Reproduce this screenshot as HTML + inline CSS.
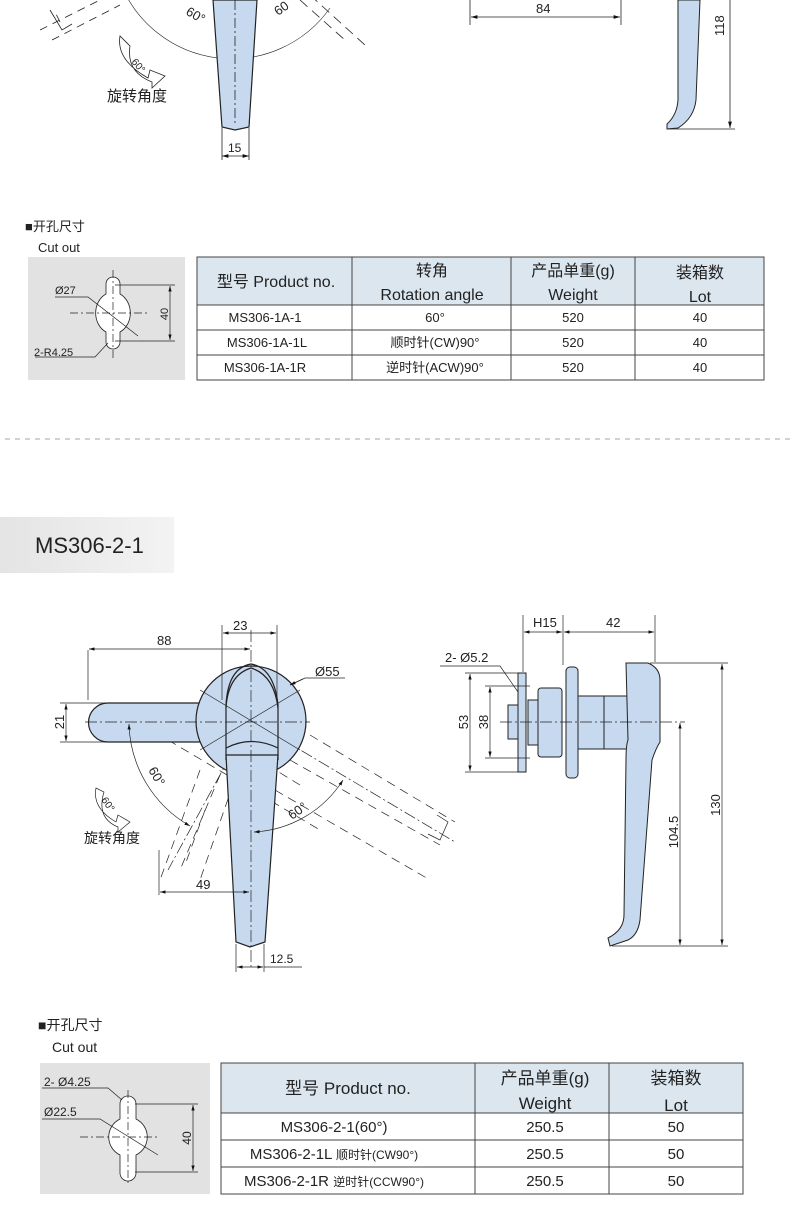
<!DOCTYPE html>
<html><head><meta charset="utf-8"><style>
html,body{margin:0;padding:0;background:#fff;}
body{width:790px;height:1213px;overflow:hidden;position:relative;}
svg{position:absolute;left:0;top:0;}
text{font-family:"Liberation Sans","Noto Sans CJK SC",sans-serif;fill:#222;}
</style></head><body>
<svg width="790" height="1213" viewBox="0 0 790 1213" xmlns="http://www.w3.org/2000/svg">
<defs>
<marker id="a" viewBox="0 0 10 6" refX="10" refY="3" markerWidth="8" markerHeight="5" orient="auto-start-reverse"><path d="M0,0 L10,3 L0,6 z" fill="#111"/></marker>
<linearGradient id="g" x1="0" x2="1"><stop offset="0" stop-color="#e4e4e4"/><stop offset="1" stop-color="#f3f3f3"/></linearGradient>
</defs>
<g stroke="#222" stroke-width="0.8" fill="none">
<!-- ===== TOP SECTION ===== -->
<path d="M40,30 L100,0 M52,40 L120,5 M60,22 L54,10" stroke-dasharray="8,6"/>
<path d="M50,10 L62,30 L72,24" />
<path d="M235,-88 m-115,70 A120,120 0 0 0 330,8" stroke-width="0.6"/>
<path d="M300,0 L345,40 M310,-5 L365,45" stroke-dasharray="10,6"/>
<path d="M213,0 L222,127 L235,130 L249,127 L257,0 Z" fill="#c6d9ee" stroke="#222" stroke-width="1.2"/>
<line x1="235" y1="0" x2="235" y2="125" stroke-dasharray="10,3,2,3"/>
<line x1="222" y1="128" x2="222" y2="160"/><line x1="249" y1="128" x2="249" y2="160"/>
<line x1="222" y1="156" x2="249" y2="156" marker-start="url(#a)" marker-end="url(#a)"/>
<line x1="470" y1="0" x2="470" y2="25"/><line x1="621" y1="0" x2="621" y2="25"/>
<line x1="471" y1="17" x2="620" y2="17" marker-start="url(#a)" marker-end="url(#a)"/>
<path d="M678,0 L700,0 L696,100 Q694,118 678,128 L667,129 L667,124 Q677,115 678,100 Z" fill="#c6d9ee" stroke-width="1"/>
<line x1="668" y1="129" x2="735" y2="129"/>
<line x1="730" y1="0" x2="730" y2="128" marker-end="url(#a)"/>
<path d="M120,36 Q116,60 148,78 L150,70 L165,76 L152,88 L152,82 Q126,72 130,46 Z" fill="#fff"/>
<!-- separator -->
<line x1="5" y1="439" x2="790" y2="439" stroke="#888" stroke-dasharray="5,5"/>
</g>
<text x="185" y="14" font-size="13" transform="rotate(30 185 14)">60°</text>
<text x="278" y="16" font-size="13" transform="rotate(-35 278 16)">60</text>
<text x="228" y="152" font-size="12">15</text>
<text x="536" y="13" font-size="13">84</text>
<text x="724" y="36" font-size="13" transform="rotate(-90 724 36)">118</text>
<text x="131" y="62" font-size="10" transform="rotate(50 131 62)">60°</text>
<text x="107" y="101" font-size="15">旋转角度</text>

<!-- cutout 1 -->
<text x="25" y="231" font-size="13">■开孔尺寸</text>
<text x="38" y="252" font-size="13">Cut out</text>
<rect x="28" y="257" width="157" height="123" fill="#e2e2e2"/>
<g stroke="#222" stroke-width="0.8" fill="#fff">
<path d="M106,290 L106,284 A7,7 0 0 1 120,284 L120,294 A18,21 0 0 1 120,332 L120,342 A7,7 0 0 1 106,342 L106,332 A18,21 0 0 1 106,294 Z"/>
</g>
<g stroke="#222" stroke-width="0.7" fill="none">
<line x1="70" y1="313" x2="150" y2="313" stroke-dasharray="8,3,2,3"/>
<line x1="113" y1="270" x2="113" y2="358" stroke-dasharray="8,3,2,3"/>
<line x1="115" y1="285" x2="175" y2="285"/><line x1="115" y1="341" x2="175" y2="341"/>
<line x1="170" y1="286" x2="170" y2="340" marker-start="url(#a)" marker-end="url(#a)"/>
<path d="M55,297 L88,297 L138,336"/>
<path d="M35,357 L95,357 L108,343"/>
</g>
<text x="55" y="294" font-size="11">Ø27</text>
<text x="34" y="356" font-size="11">2-R4.25</text>
<text x="168" y="314" font-size="11" transform="rotate(-90 168 314)" text-anchor="middle">40</text>

<!-- table 1 -->
<rect x="197" y="257" width="567" height="48" fill="#dce6ef"/>
<g stroke="#444" stroke-width="1" fill="none">
<rect x="197" y="257" width="567" height="123"/>
<line x1="197" y1="305" x2="764" y2="305"/><line x1="197" y1="330" x2="764" y2="330"/><line x1="197" y1="355" x2="764" y2="355"/>
<line x1="352" y1="257" x2="352" y2="380"/><line x1="511" y1="257" x2="511" y2="380"/><line x1="635" y1="257" x2="635" y2="380"/>
</g>
<g font-size="16" text-anchor="middle">
<text x="276" y="287">型号 Product no.</text>
<text x="432" y="276">转角</text><text x="432" y="300">Rotation angle</text>
<text x="573" y="276">产品单重(g)</text><text x="573" y="300">Weight</text>
<text x="700" y="278">装箱数</text><text x="700" y="302">Lot</text>
</g>
<g font-size="13" text-anchor="middle">
<text x="265" y="322">MS306-1A-1</text><text x="435" y="322">60°</text><text x="573" y="322">520</text><text x="700" y="322">40</text>
<text x="267" y="347">MS306-1A-1L</text><text x="435" y="347">顺时针(CW)90°</text><text x="573" y="347">520</text><text x="700" y="347">40</text>
<text x="265" y="372">MS306-1A-1R</text><text x="435" y="372">逆时针(ACW)90°</text><text x="573" y="372">520</text><text x="700" y="372">40</text>
</g>

<!-- MS306-2-1 label -->
<rect x="0" y="517" width="174" height="56" fill="url(#g)"/>
<text x="35" y="553" font-size="22" fill="#333">MS306-2-1</text>

<!-- ===== SECOND DRAWING ===== -->
<g stroke="#222" stroke-width="0.7" fill="none">
<!-- dashed rotated positions -->
<path d="M168,740 L320,830 M190,718 L300,785 M290,760 L440,845 M310,735 L455,822 M275,790 L430,880" stroke-dasharray="9,6"/>
<path d="M437,815 L448,822 L440,840 L428,834"/>
<path d="M200,770 L160,880 M220,775 L180,870 M205,810 L185,865 M238,770 L200,880" stroke-dasharray="9,6"/>
<path d="M250,720 L455,842" stroke-dasharray="12,3,2,3"/>
<path d="M250,720 L168,870" stroke-dasharray="12,3,2,3"/>
</g>
<g stroke="#222" stroke-width="1.2" fill="#c6d9ee">
<path d="M108,703 L205,703 L205,742 L108,742 A19.5,19.5 0 0 1 108,703 Z"/>
<circle cx="251" cy="721" r="55"/>
<path d="M226,755 L278,755 L265,942 L250,947 L236,942 Z"/>
<path d="M226,760 L226,705 Q228,668 251,664 Q274,668 278,705 L278,760" fill="none"/>
<path d="M226,708 Q228,675 251,668 Q274,675 278,708" fill="none"/>
<path d="M226,748 Q251,735 278,748" fill="none"/>
</g>
<g stroke="#222" stroke-width="0.7" fill="none">
<line x1="85" y1="722" x2="310" y2="722" stroke-dasharray="12,3,2,3"/>
<line x1="251" y1="630" x2="251" y2="970" stroke-dasharray="12,3,2,3"/>
<path d="M200,690 L300,750 M200,750 L300,690"/>
<line x1="88" y1="700" x2="88" y2="650"/>
<line x1="89" y1="649" x2="250" y2="649" marker-start="url(#a)" marker-end="url(#a)"/>
<line x1="222" y1="700" x2="222" y2="625"/><line x1="277" y1="700" x2="277" y2="625"/>
<line x1="223" y1="633" x2="276" y2="633" marker-start="url(#a)" marker-end="url(#a)"/>
<line x1="60" y1="703" x2="110" y2="703"/><line x1="60" y1="742" x2="110" y2="742"/>
<line x1="66" y1="704" x2="66" y2="741" marker-start="url(#a)" marker-end="url(#a)"/>
<path d="M290,685 L305,678 L345,678"/>
<line x1="290" y1="685" x2="303" y2="679" marker-start="url(#a)"/>
<path d="M129,724 A121,121 0 0 0 190,826" marker-start="url(#a)" marker-end="url(#a)"/>
<path d="M254,832 A112,112 0 0 0 343,780" marker-start="url(#a)" marker-end="url(#a)"/>
<line x1="159" y1="850" x2="159" y2="895"/>
<line x1="160" y1="892" x2="249" y2="892" marker-start="url(#a)" marker-end="url(#a)"/>
<line x1="236" y1="944" x2="236" y2="972"/><line x1="264" y1="944" x2="264" y2="972"/>
<line x1="237" y1="967" x2="263" y2="967" marker-start="url(#a)" marker-end="url(#a)"/>
<line x1="264" y1="967" x2="302" y2="967"/>
<path d="M96,788 Q92,808 116,822 L118,815 L130,822 L118,832 L118,827 Q96,818 104,792 Z" fill="#fff"/>
</g>
<text x="233" y="630" font-size="13">23</text>
<text x="157" y="645" font-size="13">88</text>
<text x="315" y="676" font-size="13">Ø55</text>
<text x="64" y="722" font-size="13" transform="rotate(-90 64 722)" text-anchor="middle">21</text>
<text x="148" y="770" font-size="13" transform="rotate(60 148 770)">60°</text>
<text x="292" y="820" font-size="13" transform="rotate(-35 292 820)">60°</text>
<text x="196" y="889" font-size="13">49</text>
<text x="270" y="963" font-size="12">12.5</text>
<text x="101" y="800" font-size="10" transform="rotate(55 101 800)">60°</text>
<text x="84" y="843" font-size="14">旋转角度</text>

<!-- right side view -->
<g stroke="#222" stroke-width="1" fill="#c6d9ee">
<rect x="508" y="705" width="10" height="34"/>
<rect x="518" y="673" width="8" height="99"/>
<rect x="538" y="688" width="24" height="69" rx="3"/>
<rect x="528" y="700" width="10" height="45"/>
<rect x="566" y="667" width="12" height="111" rx="4"/>
<rect x="578" y="696" width="50" height="53"/>
<line x1="604" y1="696" x2="604" y2="749"/>
<path d="M626,663 L648,663 Q660,668 660,680 L660,742 Q656,748 652,760 L640,920 Q638,935 628,940 L610,946 L608,938 Q624,930 624,915 L626,760 Q626,745 628,740 Z"/>
</g>
<g stroke="#222" stroke-width="0.7" fill="none">
<line x1="500" y1="722" x2="685" y2="722" stroke-dasharray="12,3,2,3"/>
<line x1="523" y1="615" x2="523" y2="672"/><line x1="563" y1="615" x2="563" y2="665"/><line x1="655" y1="615" x2="655" y2="662"/>
<line x1="524" y1="632" x2="562" y2="632" marker-start="url(#a)" marker-end="url(#a)"/>
<line x1="564" y1="632" x2="654" y2="632" marker-start="url(#a)" marker-end="url(#a)"/>
<path d="M440,666 L500,666 L518,692"/>
<line x1="465" y1="673" x2="518" y2="673"/><line x1="465" y1="772" x2="518" y2="772"/>
<line x1="470" y1="674" x2="470" y2="771" marker-start="url(#a)" marker-end="url(#a)"/>
<line x1="485" y1="686" x2="530" y2="686"/><line x1="485" y1="758" x2="530" y2="758"/>
<line x1="490" y1="687" x2="490" y2="757" marker-start="url(#a)" marker-end="url(#a)"/>
<line x1="650" y1="663" x2="728" y2="663"/><line x1="612" y1="946" x2="728" y2="946"/>
<line x1="722" y1="664" x2="722" y2="945" marker-start="url(#a)" marker-end="url(#a)"/>
<line x1="680" y1="723" x2="680" y2="945" marker-start="url(#a)" marker-end="url(#a)"/>
</g>
<text x="533" y="627" font-size="13">H15</text>
<text x="606" y="627" font-size="13">42</text>
<text x="445" y="662" font-size="13">2- Ø5.2</text>
<text x="468" y="722" font-size="13" transform="rotate(-90 468 722)" text-anchor="middle">53</text>
<text x="488" y="722" font-size="13" transform="rotate(-90 488 722)" text-anchor="middle">38</text>
<text x="720" y="805" font-size="13" transform="rotate(-90 720 805)" text-anchor="middle">130</text>
<text x="678" y="832" font-size="13" transform="rotate(-90 678 832)" text-anchor="middle">104.5</text>

<!-- cutout 2 -->
<text x="38" y="1030" font-size="14">■开孔尺寸</text>
<text x="52" y="1052" font-size="14">Cut out</text>
<rect x="40" y="1063" width="170" height="131" fill="#e2e2e2"/>
<g stroke="#222" stroke-width="0.8" fill="#fff">
<path d="M120,1119 L120,1104 A8,8 0 0 1 136,1104 L136,1119 A20,20 0 0 1 136,1155 L136,1173 A8,8 0 0 1 120,1173 L120,1155 A20,20 0 0 1 120,1119 Z"/>
</g>
<g stroke="#222" stroke-width="0.7" fill="none">
<line x1="80" y1="1137" x2="160" y2="1137" stroke-dasharray="8,3,2,3"/>
<line x1="128" y1="1090" x2="128" y2="1185" stroke-dasharray="8,3,2,3"/>
<line x1="135" y1="1104" x2="198" y2="1104"/><line x1="135" y1="1172" x2="198" y2="1172"/>
<line x1="193" y1="1105" x2="193" y2="1171" marker-start="url(#a)" marker-end="url(#a)"/>
<path d="M42,1088 L108,1088 L122,1100"/>
<path d="M42,1119 L100,1119 L158,1155"/>
</g>
<text x="44" y="1086" font-size="12">2- Ø4.25</text>
<text x="44" y="1116" font-size="12">Ø22.5</text>
<text x="191" y="1138" font-size="12" transform="rotate(-90 191 1138)" text-anchor="middle">40</text>

<!-- table 2 -->
<rect x="221" y="1063" width="522" height="50" fill="#dce6ef"/>
<g stroke="#444" stroke-width="1" fill="none">
<rect x="221" y="1063" width="522" height="131"/>
<line x1="221" y1="1113" x2="743" y2="1113"/><line x1="221" y1="1140" x2="743" y2="1140"/><line x1="221" y1="1167" x2="743" y2="1167"/>
<line x1="475" y1="1063" x2="475" y2="1194"/><line x1="609" y1="1063" x2="609" y2="1194"/>
</g>
<g font-size="17" text-anchor="middle">
<text x="348" y="1094">型号 Product no.</text>
<text x="545" y="1084">产品单重(g)</text><text x="545" y="1109">Weight</text>
<text x="676" y="1084">装箱数</text><text x="676" y="1111">Lot</text>
</g>
<g font-size="15" text-anchor="middle">
<text x="334" y="1132">MS306-2-1(60°)</text><text x="545" y="1132">250.5</text><text x="676" y="1132">50</text>
<text x="334" y="1159">MS306-2-1L <tspan font-size="12">顺时针(CW90°)</tspan></text><text x="545" y="1159">250.5</text><text x="676" y="1159">50</text>
<text x="334" y="1186">MS306-2-1R <tspan font-size="12">逆时针(CCW90°)</tspan></text><text x="545" y="1186">250.5</text><text x="676" y="1186">50</text>
</g>
</svg>
</body></html>
